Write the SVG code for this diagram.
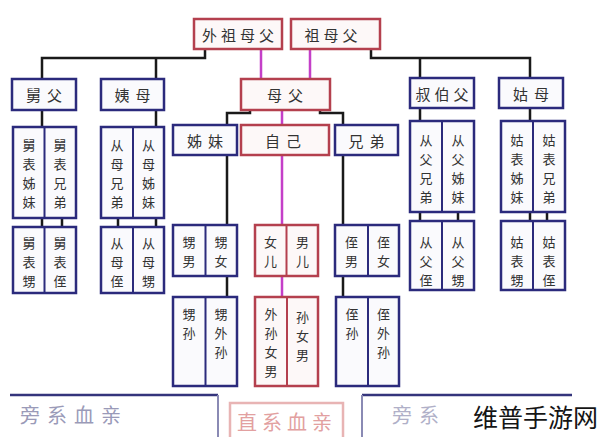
<svg xmlns="http://www.w3.org/2000/svg" width="600" height="437" viewBox="0 0 600 437">
<style>
text{font-family:"Noto Sans CJK SC","Noto Sans CJK TC",sans-serif;font-size:15px;fill:#333;text-anchor:middle;dominant-baseline:central}
.v{font-size:13px}
.r{fill:#fdf8f8;stroke:#b4404e;stroke-width:2.5}
.b{fill:#fafafd;stroke:#2b2a7c;stroke-width:2.5}
.rl{stroke:#b4404e;stroke-width:2}
.bl{stroke:#2b2a7c;stroke-width:2}
.h4{letter-spacing:4px}
.h6{letter-spacing:6px}
.c{fill:none;stroke:#1a1a1a;stroke-width:2.5}
.p{fill:none;stroke:#c43fc8;stroke-width:2.5}
.big{font-size:20px;text-anchor:start}
</style>
<rect width="600" height="437" fill="#fff"/>
<g id="connectors">
<path class="c" d="M205 49V58H42V79M156 58V79"/>
<path class="c" d="M371 49V58H530V78M420 58V78"/>
<path class="c" d="M42 110V127M156 110V127"/>
<path class="c" d="M42 218V227M62 218V227M118 218V227M156 218V227"/>
<path class="c" d="M420 108V121M530 108V121"/>
<path class="c" d="M420 212V221M458 212V221M530 212V221M547 212V221"/>
<path class="c" d="M250 110V113H227V125M320 110V113H343V125"/>
<path class="c" d="M227 155V225M227 276V297M343 155V225M343 276V297"/>
<path class="p" d="M261 49V79M310 49V79M282 110V125M282 155V225M282 276V297"/>
</g>
<g id="n_waizumufu"><rect class="r" x="194" y="19" width="88" height="30"/><text class="h4" x="240" y="34">外祖母父</text></g>
<g id="n_zumufu"><rect class="r" x="291" y="19" width="89" height="30"/><text class="h4" x="333" y="34">祖母父</text></g>
<g id="n_mufu"><rect class="r" x="241" y="79" width="89" height="31"/><text class="h6" x="288" y="94.5">母父</text></g>
<g id="n_ziji"><rect class="r" x="241" y="125" width="88" height="30"/><text class="h6" x="286" y="140">自己</text></g>
<g id="n_nver"><rect class="r" x="255" y="225" width="63" height="51"/><line class="rl" x1="286.5" y1="225" x2="286.5" y2="276"/>
<text class="v"><tspan x="270.5" y="241">女</tspan><tspan x="270.5" y="260">儿</tspan></text>
<text class="v"><tspan x="302.5" y="241">男</tspan><tspan x="302.5" y="260">儿</tspan></text></g>
<g id="n_sun"><rect class="r" x="255" y="297" width="63" height="89"/><line class="rl" x1="287" y1="297" x2="287" y2="386"/>
<text class="v"><tspan x="271" y="313">外</tspan><tspan x="271" y="332">孙</tspan><tspan x="271" y="351">女</tspan><tspan x="271" y="370">男</tspan></text>
<text class="v"><tspan x="302.5" y="316">孙</tspan><tspan x="302.5" y="335">女</tspan><tspan x="302.5" y="354">男</tspan></text></g>
<g id="n_jiufu"><rect class="b" x="12" y="79" width="64" height="31"/><text class="h6" x="47" y="94.5">舅父</text></g>
<g id="n_yimu"><rect class="b" x="101" y="79" width="63" height="31"/><text class="h6" x="135.5" y="94.5">姨母</text></g>
<g id="n_zimei"><rect class="b" x="173" y="125" width="64" height="30"/><text class="h6" x="208" y="140">姊妹</text></g>
<g id="n_xiongdi"><rect class="b" x="335" y="125" width="63" height="30"/><text class="h6" x="369.5" y="140">兄弟</text></g>
<g id="n_shubofu"><rect class="b" x="410" y="78" width="64" height="30"/><text class="h4" x="444" y="93">叔伯父</text></g>
<g id="n_gumu"><rect class="b" x="499" y="78" width="64" height="30"/><text class="h6" x="534" y="93">姑母</text></g>
<g id="n_jiubiao1"><rect class="b" x="13" y="127" width="63" height="91"/><line class="bl" x1="44.5" y1="127" x2="44.5" y2="218"/>
<text class="v"><tspan x="29" y="144">舅</tspan><tspan x="29" y="163">表</tspan><tspan x="29" y="182">姊</tspan><tspan x="29" y="201">妹</tspan></text>
<text class="v"><tspan x="60" y="144">舅</tspan><tspan x="60" y="163">表</tspan><tspan x="60" y="182">兄</tspan><tspan x="60" y="201">弟</tspan></text></g>
<g id="n_congmu1"><rect class="b" x="101" y="127" width="63" height="91"/><line class="bl" x1="133" y1="127" x2="133" y2="218"/>
<text class="v"><tspan x="117" y="144">从</tspan><tspan x="117" y="163">母</tspan><tspan x="117" y="182">兄</tspan><tspan x="117" y="201">弟</tspan></text>
<text class="v"><tspan x="148.5" y="144">从</tspan><tspan x="148.5" y="163">母</tspan><tspan x="148.5" y="182">姊</tspan><tspan x="148.5" y="201">妹</tspan></text></g>
<g id="n_jiubiao2"><rect class="b" x="13" y="227" width="63" height="66"/><line class="bl" x1="44.5" y1="227" x2="44.5" y2="293"/>
<text class="v"><tspan x="29" y="242">舅</tspan><tspan x="29" y="261">表</tspan><tspan x="29" y="280">甥</tspan></text>
<text class="v"><tspan x="60" y="242">舅</tspan><tspan x="60" y="261">表</tspan><tspan x="60" y="280">侄</tspan></text></g>
<g id="n_congmu2"><rect class="b" x="101" y="227" width="63" height="66"/><line class="bl" x1="133" y1="227" x2="133" y2="293"/>
<text class="v"><tspan x="117" y="242">从</tspan><tspan x="117" y="261">母</tspan><tspan x="117" y="280">侄</tspan></text>
<text class="v"><tspan x="148.5" y="242">从</tspan><tspan x="148.5" y="261">母</tspan><tspan x="148.5" y="280">甥</tspan></text></g>
<g id="n_sheng"><rect class="b" x="173" y="225" width="64" height="51"/><line class="bl" x1="205.5" y1="225" x2="205.5" y2="276"/>
<text class="v"><tspan x="189" y="241">甥</tspan><tspan x="189" y="260">男</tspan></text>
<text class="v"><tspan x="221" y="241">甥</tspan><tspan x="221" y="260">女</tspan></text></g>
<g id="n_zhi"><rect class="b" x="335" y="225" width="64" height="51"/><line class="bl" x1="368" y1="225" x2="368" y2="276"/>
<text class="v"><tspan x="351.5" y="241">侄</tspan><tspan x="351.5" y="260">男</tspan></text>
<text class="v"><tspan x="383.5" y="241">侄</tspan><tspan x="383.5" y="260">女</tspan></text></g>
<g id="n_shengsun"><rect class="b" x="173" y="297" width="64" height="89"/><line class="bl" x1="205.5" y1="297" x2="205.5" y2="386"/>
<text class="v"><tspan x="189" y="313">甥</tspan><tspan x="189" y="332">孙</tspan></text>
<text class="v"><tspan x="221" y="313">甥</tspan><tspan x="221" y="332">外</tspan><tspan x="221" y="351">孙</tspan></text></g>
<g id="n_zhisun"><rect class="b" x="336" y="297" width="63" height="89"/><line class="bl" x1="368" y1="297" x2="368" y2="386"/>
<text class="v"><tspan x="352" y="313">侄</tspan><tspan x="352" y="332">孙</tspan></text>
<text class="v"><tspan x="383.5" y="313">侄</tspan><tspan x="383.5" y="332">外</tspan><tspan x="383.5" y="351">孙</tspan></text></g>
<g id="n_congfu1"><rect class="b" x="410" y="121" width="64" height="91"/><line class="bl" x1="442" y1="121" x2="442" y2="212"/>
<text class="v"><tspan x="426" y="139">从</tspan><tspan x="426" y="158">父</tspan><tspan x="426" y="177">兄</tspan><tspan x="426" y="196">弟</tspan></text>
<text class="v"><tspan x="458" y="139">从</tspan><tspan x="458" y="158">父</tspan><tspan x="458" y="177">姊</tspan><tspan x="458" y="196">妹</tspan></text></g>
<g id="n_gubiao1"><rect class="b" x="501" y="121" width="64" height="91"/><line class="bl" x1="533" y1="121" x2="533" y2="212"/>
<text class="v"><tspan x="517" y="139">姑</tspan><tspan x="517" y="158">表</tspan><tspan x="517" y="177">姊</tspan><tspan x="517" y="196">妹</tspan></text>
<text class="v"><tspan x="549" y="139">姑</tspan><tspan x="549" y="158">表</tspan><tspan x="549" y="177">兄</tspan><tspan x="549" y="196">弟</tspan></text></g>
<g id="n_congfu2"><rect class="b" x="410" y="221" width="64" height="69"/><line class="bl" x1="442" y1="221" x2="442" y2="290"/>
<text class="v"><tspan x="426" y="241">从</tspan><tspan x="426" y="260">父</tspan><tspan x="426" y="279">侄</tspan></text>
<text class="v"><tspan x="458" y="241">从</tspan><tspan x="458" y="260">父</tspan><tspan x="458" y="279">甥</tspan></text></g>
<g id="n_gubiao2"><rect class="b" x="501" y="221" width="64" height="69"/><line class="bl" x1="533" y1="221" x2="533" y2="290"/>
<text class="v"><tspan x="517" y="241">姑</tspan><tspan x="517" y="260">表</tspan><tspan x="517" y="279">甥</tspan></text>
<text class="v"><tspan x="549" y="241">姑</tspan><tspan x="549" y="260">表</tspan><tspan x="549" y="279">侄</tspan></text></g>
<g id="legend">
<path d="M10 395H218" stroke="#34347c" stroke-width="2.5" fill="none"/>
<path d="M218 395V437" stroke="#8a8ab4" stroke-width="2" fill="none"/>
<text class="big" x="20" y="414" style="fill:#9a9ab8;letter-spacing:7px">旁系血亲</text>
<rect x="230" y="403" width="113" height="40" fill="none" stroke="#e8b4b4" stroke-width="2.5"/>
<text class="big" x="237" y="421" style="fill:#e2a0a0;letter-spacing:5px">直系血亲</text>
<path d="M362 395H572" stroke="#34347c" stroke-width="2.5" fill="none"/>
<path d="M362 395V437" stroke="#8a8ab4" stroke-width="2" fill="none"/>
<text class="big" x="392" y="414" style="fill:#b0b0c8;letter-spacing:7px">旁系</text>
<text x="473" y="416" style="font-size:25px;text-anchor:start;fill:#151515">维普手游网</text>
</g>
</svg>
